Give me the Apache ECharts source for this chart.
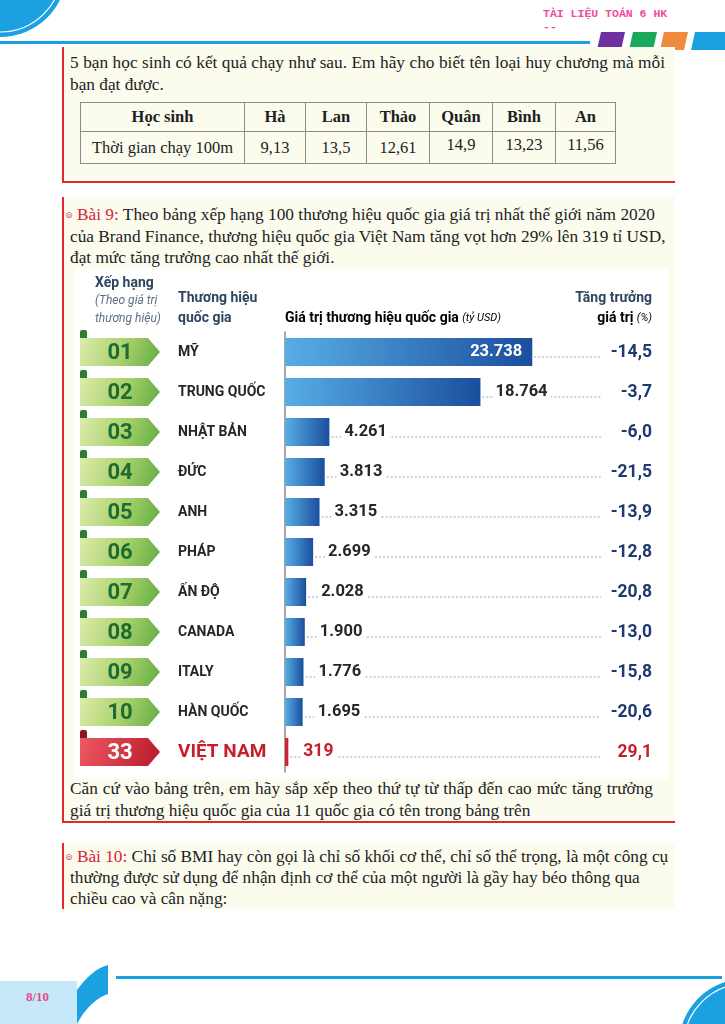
<!DOCTYPE html>
<html lang="vi">
<head>
<meta charset="utf-8">
<script src="https://cdn.jsdelivr.net/npm/echarts@6/dist/echarts.min.js"></script>
<style>
  html, body { margin: 0; padding: 0; background: #fff; }
  #page { position: relative; width: 725px; height: 1024px; overflow: hidden;
          font-family: "Liberation Serif", serif; color: #1e1e1e; }
  .box { position: absolute; left: 62px; width: 613px; background: #fbfbee;
         border-left: 2px solid #e3262f; box-sizing: border-box; }
  .ln { position: absolute; white-space: nowrap; font-size: 17.3px; line-height: 20px; }
  .full { text-align: justify; text-align-last: justify; }
  .mark { font-family: "DejaVu Sans"; font-size: 9px; color: #e24a8d; vertical-align: 2px; }
  .bai { color: #d6243a; }
  table.runs { position: absolute; left: 80px; top: 102px; border-collapse: collapse;
               font-size: 16.5px; }
  table.runs td { border: 1px solid #8c8c8c; height: 28px; padding: 0; text-align: center; }
  table.runs tr.head td { font-weight: bold; }
  table.runs td.hi { vertical-align: top; padding-top: 3px; }
  #chart { position: absolute; left: 75px; top: 269px; width: 593px; height: 510px; }
  #deco { position: absolute; left: 0; top: 0; }
  .hdr { position: absolute; left: 543px; top: 7px; font-family: "Liberation Mono", monospace;
         font-size: 11.5px; font-weight: bold; color: #ee4d9b; }
  .pg { position: absolute; left: 26px; top: 989px; font-size: 13px; font-weight: bold; color: #e8468e; }
</style>
</head>
<body>
<div id="page">
  <svg id="deco" width="725" height="1024">
    <circle cx="0" cy="-30" r="67" fill="#1ba1e2"/>
    <circle cx="0" cy="-30" r="62" fill="none" stroke="#fff" stroke-width="1.2"/>
    <rect x="0" y="41" width="590" height="3" fill="#1ba1e2"/>
    <polygon points="601,32 625,32 621,50 597,50" fill="#7030a0"/>
    <polygon points="633,32 657,32 653,50 629,50" fill="#1aa85a"/>
    <polygon points="664,32 688,32 684,50 660,50" fill="#f08a3c"/>
    <polygon points="695,32 725,32 725,50 691,50" fill="#1ba1e2"/>
    <rect x="116" y="976" width="606" height="3" fill="#1ba1e2"/>
    <rect x="0" y="981" width="77" height="43" fill="#c6e8f8"/>
    <path d="M77,990 C86,978 96,968 108,965 L108,994 C96,998 84,1010 77,1024 Z" fill="#1ba1e2"/>
    <circle cx="745" cy="1045" r="66" fill="#1ba1e2"/>
    <circle cx="745" cy="1045" r="61" fill="none" stroke="#fff" stroke-width="1.2"/>
  </svg>
  <div class="hdr">TÀI LIỆU TOÁN 6 HK<br>--</div>

  <div class="box" style="top:47px;height:136px;border-bottom:2px solid #e3262f;"></div>
  <div class="ln full" style="left:70px;top:53px;width:595px;">5 bạn học sinh có kết quả chạy như sau. Em hãy cho biết tên loại huy chương mà mỗi</div>
  <div class="ln" style="left:70px;top:75px;">bạn đạt được.</div>
  <table class="runs">
    <tr class="head">
      <td style="width:163px;">Học sinh</td><td style="width:60px;">Hà</td><td style="width:60px;">Lan</td>
      <td style="width:62px;">Thảo</td><td style="width:62px;">Quân</td><td style="width:62px;">Bình</td><td style="width:59px;">An</td>
    </tr>
    <tr>
      <td>Thời gian chạy 100m</td><td>9,13</td><td>13,5</td><td>12,61</td>
      <td class="hi">14,9</td><td class="hi">13,23</td><td class="hi">11,56</td>
    </tr>
  </table>

  <div class="box" style="top:197px;height:626px;border-bottom:2px solid #e3262f;"></div>
  <div class="ln full" style="left:65px;top:205px;width:590px;"><span class="mark">⊚</span> <span class="bai">Bài 9:</span> Theo bảng xếp hạng 100 thương hiệu quốc gia giá trị nhất thế giới năm 2020</div>
  <div class="ln full" style="left:70px;top:227px;width:595px;">của Brand Finance, thương hiệu quốc gia Việt Nam tăng vọt hơn 29% lên 319 tỉ USD,</div>
  <div class="ln" style="left:70px;top:248px;">đạt mức tăng trưởng cao nhất thế giới.</div>
  <div id="chart"></div>
  <div class="ln full" style="left:70px;top:779px;width:583px;">Căn cứ vào bảng trên, em hãy sắp xếp theo thứ tự từ thấp đến cao mức tăng trưởng</div>
  <div class="ln" style="left:70px;top:801px;">giá trị thương hiệu quốc gia của 11 quốc gia có tên trong bảng trên</div>

  <div class="box" style="top:843px;height:66px;"></div>
  <div class="ln full" style="left:65px;top:847px;width:599px;"><span class="mark">⊚</span> <span class="bai">Bài 10:</span> Chỉ số BMI hay còn gọi là chỉ số khối cơ thể, chỉ số thể trọng, là một công cụ</div>
  <div class="ln" style="left:70px;top:868px;">thường được sử dụng để nhận định cơ thể của một người là gầy hay béo thông qua</div>
  <div class="ln" style="left:70px;top:889px;">chiều cao và cân nặng:</div>

  <div class="pg">8/10</div>
</div>

<script>
  // dữ liệu: xếp hạng thương hiệu quốc gia 2020 (Brand Finance)
  const ranks = ['01', '02', '03', '04', '05', '06', '07', '08', '09', '10', '33']
  const countries = ['MỸ', 'TRUNG QUỐC', 'NHẬT BẢN', 'ĐỨC', 'ANH', 'PHÁP', 'ẤN ĐỘ', 'CANADA', 'ITALY', 'HÀN QUỐC', 'VIỆT NAM']
  const brandValues = [23738, 18764, 4261, 3813, 3315, 2699, 2028, 1900, 1776, 1695, 319]
  const growthRates = [-14.5, -3.7, -6.0, -21.5, -13.9, -12.8, -20.8, -13.0, -15.8, -20.6, 29.1]

  const last = countries.length - 1
  const fmtValue = v => String(v).replace(/\B(?=(\d{3})+(?!\d))/g, '.')
  const fmtGrowth = v => v.toFixed(1).replace('.', ',')
  const FONT = 'Roboto'

  const chart = echarts.init(document.getElementById('chart'))

  // huy hiệu xếp hạng bên trái
  function renderRank(params, api) {
    const i = params.dataIndex
    const yc = api.coord([0, i])[1]
    const vn = i === last
    const x0 = 5, x1 = 73, x2 = 85, h = 14
    return {
      type: 'group',
      children: [
        { type: 'rect', shape: { x: x0, y: yc - 22, width: 7, height: 10, r: [2, 2, 0, 0] },
          style: { fill: vn ? '#8c1520' : '#2f7d34' } },
        { type: 'polygon',
          shape: { points: [[x0, yc - h], [x1, yc - h], [x2, yc], [x1, yc + h], [x0, yc + h]] },
          style: { fill: new echarts.graphic.LinearGradient(0, 0, 1, 1, vn
            ? [{ offset: 0, color: '#ee5a62' }, { offset: 1, color: '#b8182a' }]
            : [{ offset: 0, color: '#dcecaa' }, { offset: 0.55, color: '#a6d06a' }, { offset: 1, color: '#62aa42' }]) } },
        { type: 'text',
          style: { text: ranks[i], x: 45, y: yc + 1, align: 'center', verticalAlign: 'middle',
            fontSize: 22, fontWeight: 'bold', fontFamily: FONT, fill: vn ? '#fff' : '#1f6b30' } }
      ]
    }
  }

  // đường chấm + tăng trưởng bên phải
  function renderGrowth(params, api) {
    const i = params.dataIndex
    const p = api.coord([api.value(0), i])
    const yc = p[1]
    const vn = i === last
    return {
      type: 'group',
      children: [
        { type: 'line', shape: { x1: p[0] + 2, y1: yc + 5, x2: 526, y2: yc + 5 },
          style: { stroke: '#98a8b8', lineWidth: 1, lineDash: [2, 2] } },
        { type: 'text',
          style: { text: fmtGrowth(growthRates[i]), x: 577, y: yc + 1, align: 'right', verticalAlign: 'middle',
            fontSize: 17.5, fontWeight: 'bold', fontFamily: FONT, fill: vn ? '#c81e2c' : '#1d3b6e' } }
      ]
    }
  }

  chart.setOption({
    backgroundColor: '#fff',
    animation: false,
    textStyle: { fontFamily: FONT },
    grid: { left: 210, top: 63, width: 375, height: 440 },
    xAxis: { type: 'value', min: 0, max: 36000, show: false },
    yAxis: {
      type: 'category',
      data: countries,
      inverse: true,
      axisLine: { show: true, lineStyle: { color: '#8a8a8a', width: 1.5 } },
      axisTick: { show: false },
      splitLine: { show: false },
      axisLabel: {
        margin: 107,
        align: 'left',
        formatter: (v, i) => i === last ? '{vn|' + v + '}' : '{n|' + v + '}',
        rich: {
          n: { fontSize: 14, fontWeight: 'bold', color: '#262626', fontFamily: FONT },
          vn: { fontSize: 19, fontWeight: 'bold', color: '#c81e2c', fontFamily: FONT }
        }
      }
    },
    graphic: [
      { type: 'text', x: 20, y: 14, style: { text: 'Xếp hạng', fontSize: 14, fontWeight: 'bold', fontFamily: FONT, fill: '#2f4560', verticalAlign: 'middle' } },
      { type: 'text', x: 20, y: 32, style: { text: '(Theo giá trị', fontSize: 12, fontStyle: 'italic', fontFamily: FONT, fill: '#5f6f85', verticalAlign: 'middle' } },
      { type: 'text', x: 20, y: 50, style: { text: 'thương hiệu)', fontSize: 12, fontStyle: 'italic', fontFamily: FONT, fill: '#5f6f85', verticalAlign: 'middle' } },
      { type: 'text', x: 103, y: 29, style: { text: 'Thương hiệu', fontSize: 14, fontWeight: 'bold', fontFamily: FONT, fill: '#2f4560', verticalAlign: 'middle' } },
      { type: 'text', x: 103, y: 49, style: { text: 'quốc gia', fontSize: 14, fontWeight: 'bold', fontFamily: FONT, fill: '#2f4560', verticalAlign: 'middle' } },
      { type: 'text', x: 210, y: 49, style: {
        text: '{b|Giá trị thương hiệu quốc gia} {i|(tỷ USD)}', verticalAlign: 'middle',
        rich: { b: { fontSize: 14, fontWeight: 'bold', fontFamily: FONT, color: '#2f4560' },
                i: { fontSize: 11, fontStyle: 'italic', fontFamily: FONT, color: '#6a7a8e' } } } },
      { type: 'text', x: 577, y: 29, style: { text: 'Tăng trưởng', align: 'right', fontSize: 14, fontWeight: 'bold', fontFamily: FONT, fill: '#2f4560', verticalAlign: 'middle' } },
      { type: 'text', x: 577, y: 49, style: {
        text: '{b|giá trị} {i|(%)}', align: 'right', verticalAlign: 'middle',
        rich: { b: { fontSize: 14, fontWeight: 'bold', fontFamily: FONT, color: '#2f4560' },
                i: { fontSize: 11, fontStyle: 'italic', fontFamily: FONT, color: '#6a7a8e' } } } }
    ],
    series: [
      {
        type: 'custom',
        z: 1,
        clip: false,
        silent: true,
        data: brandValues.map((v, i) => [v, i]),
        renderItem: renderGrowth
      },
      {
        type: 'custom',
        z: 1,
        clip: false,
        silent: true,
        data: ranks.map((r, i) => [0, i]),
        renderItem: renderRank
      },
      {
        type: 'bar',
        z: 3,
        barWidth: 28,
        data: brandValues.map((v, i) => {
          const item = { value: v }
          if (i === 0) {
            item.label = { position: 'insideRight', distance: 7, color: '#fff', backgroundColor: 'transparent' }
          }
          if (i === last) {
            item.itemStyle = { color: '#d3222f' }
            item.label = { color: '#c81e2c', fontSize: 17.5 }
          }
          return item
        }),
        itemStyle: {
          color: new echarts.graphic.LinearGradient(0, 0, 1, 0, [
            { offset: 0, color: '#57aee6' },
            { offset: 1, color: '#1b4e9e' }
          ])
        },
        label: {
          show: true,
          position: 'right',
          distance: 12,
          formatter: p => fmtValue(p.value),
          fontSize: 16.5,
          fontWeight: 'bold',
          fontFamily: FONT,
          color: '#262626',
          backgroundColor: '#fff',
          padding: [1, 3]
        }
      }
    ]
  })
</script>
</body>
</html>
